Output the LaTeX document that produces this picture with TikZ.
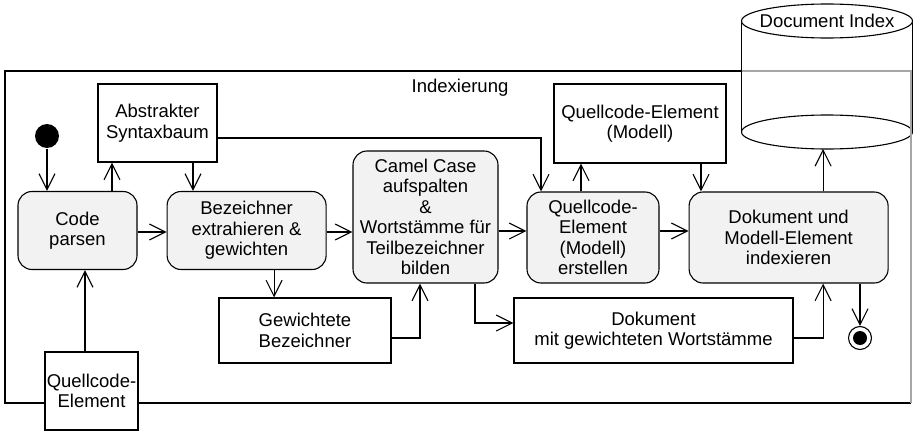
\documentclass[tikz,border=0pt]{standalone}
\usepackage{fontspec}
\setmainfont{Liberation Sans}
\usepackage{tikz}
\usetikzlibrary{positioning, arrows.meta, calc}

\begin{document}
\begin{tikzpicture}[
    x=1pt, y=-1pt,
    line width=1.1pt,
    font=\fontsize{18.5}{20.5}\selectfont,
    actionnode/.style={rectangle, rounded corners=14pt, draw=black, fill=black!5, align=center, inner sep=0pt},
    objectnode/.style={rectangle, draw=black, fill=white, align=center, inner sep=0pt},
    flow/.style={-{Straight Barb[length=16pt, width=16pt]}},
]
\useasboundingbox (0,0) rectangle (913,431);
\draw (742,71) -- (5,71) -- (5,403) -- (911,403);
\node (indexlabel) at (460,88) {Indexierung};

% Datenbank
\coordinate (dbtop) at (827,21);
\coordinate (dbbase) at (827,132);
\coordinate (dbfoot) at (827,149);
\fill[white] ([xshift=-85.5pt]dbtop) rectangle ([xshift=85.5pt]dbbase);
\draw (dbbase) ellipse [x radius=85.5pt, y radius=17pt];
\draw ([xshift=-85.5pt]dbtop) -- ([xshift=-85.5pt]dbbase);
\draw ([xshift=85.5pt]dbtop) -- ([xshift=85.5pt]dbbase);
\draw[fill=white] (dbtop) ellipse [x radius=85.5pt, y radius=17pt];
\node (dbname) at (dbtop) {Document Index};
\draw[black!35] (742,71) -- (911,71) -- (911,403);

\node[circle, fill=black, minimum size=24pt, inner sep=0pt](start) at (47,136){};
\node[actionnode, minimum width=119pt, minimum height=78pt](parse) at (77.5,230.5){Code\\parsen};
\node[objectnode, minimum width=119pt, minimum height=78pt](ast) at (157.5,123){Abstrakter\\Syntaxbaum};
\node[actionnode, minimum width=159pt, minimum height=78pt](extract)[right = 29pt of parse]{Bezeichner\\extrahieren \&\\gewichten};
\node[actionnode, minimum width=145pt, minimum height=132pt](camel) at (425.5,217){Camel Case\\aufspalten\\\&\\Wortstämme für\\Teilbezeichner\\bilden};
\node[actionnode, minimum width=132pt, minimum height=91pt](create) at (593,237.5){Quellcode-\\Element\\(Modell)\\erstellen};
\node[objectnode, minimum width=172pt, minimum height=79pt](model) at (640,123.5){Quellcode-Element\\(Modell)};
\node[actionnode, minimum width=199pt, minimum height=91pt](index)[right = 29pt of create]{Dokument und\\Modell-Element\\indexieren};
\node[objectnode, minimum width=172pt, minimum height=65pt](weighted) at (305,330.5){Gewichtete\\Bezeichner};
\node[objectnode, minimum width=279pt, minimum height=65pt](docstems) at (653.5,330.5){Dokument\\mit gewichteten Wortstämme};
\node[objectnode, minimum width=93pt, minimum height=78pt](source) at (91.5,391){Quellcode-\\Element};
\node[circle, draw=black, minimum size=23pt, inner sep=0pt](finish) at (860,338){};
\node[circle, fill=black, minimum size=14pt, inner sep=0pt](finishdot) at (finish){};

\draw[flow] (start) -- (start |- parse.north);
\draw[flow] ([xshift=34.5pt]parse.north) -- ([xshift=34.5pt]parse.north |- ast.south);
\draw[flow] ([xshift=35.5pt]ast.south) -- ([xshift=35.5pt]ast.south |- extract.north);
\draw[flow] ([yshift=-1.5pt]parse.east) -- ([yshift=-1.5pt]parse.east -| extract.west);
\draw[flow] ([yshift=-1.5pt]extract.east) -- ([yshift=-1.5pt]extract.east -| camel.west);
\draw[flow] ([yshift=-15pt]ast.east) -| ([xshift=-52pt]create.north);
\draw[flow] ([xshift=-12pt]create.north) -- ([xshift=-12pt]create.north |- model.south);
\draw[flow] ([xshift=61pt]model.south) -- ([xshift=61pt]model.south |- index.north);
\draw[flow] ([yshift=6.5pt]create.west -| camel.east) -- ([yshift=6.5pt]create.west);
\draw[flow] ([yshift=6.5pt]create.east) -- ([yshift=6.5pt]index.west);
\draw[flow] ([xshift=34.5pt]index.north) -- ([xshift=34.5pt]index.north |- dbfoot);
\draw[flow] ([xshift=27.5pt]extract.south) -- ([xshift=27.5pt]extract.south |- weighted.north);
\draw[flow] ([yshift=-7.5pt]weighted.east) -| ([xshift=-5.5pt]camel.south);
\draw[flow] ([xshift=49.5pt]camel.south) |- ([yshift=7.5pt]docstems.west);
\draw[flow] ([yshift=-7.5pt]docstems.east) -| ([xshift=34.5pt]index.south);
\draw[flow] (finish |- index.south) -- (finish);
\draw[flow] ([xshift=-6.5pt]source.north) -- ([xshift=-6.5pt]source.north |- parse.south);
\end{tikzpicture}
\end{document}
